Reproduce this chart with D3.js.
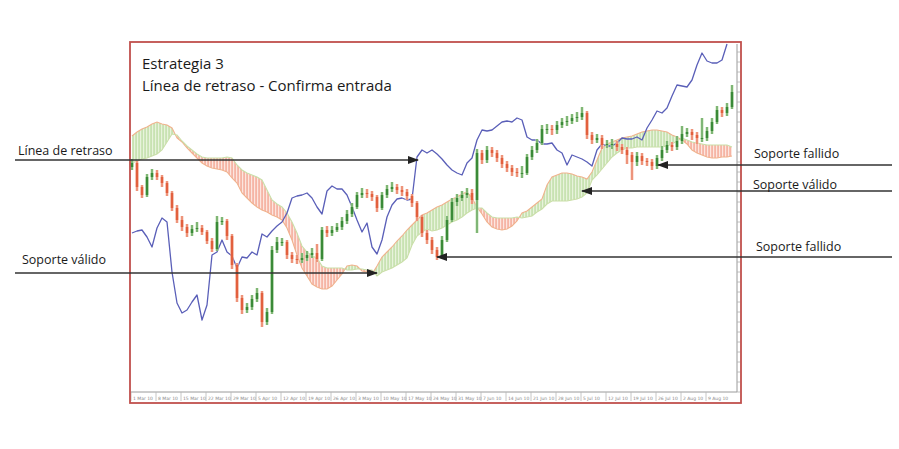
<!DOCTYPE html>
<html><head><meta charset="utf-8">
<script src="https://cdn.jsdelivr.net/npm/d3@7"></script>
<style>body{margin:0;background:#fff}svg{display:block}</style>
</head><body>
<svg id="c" width="899" height="449"></svg>
<script>
// ---- data (price units, daily bars) ----
const open = [225,229,205,197,215,219,215,209,199,184,
172,165,159,163,164,160,151,143,170,171,
156,127,94,82,85,93,99,70,80,142,
150,150,137,133,132,134,137,139,133,162,
159,162,165,171,178,185,197,199,198,195,
184,197,203,205,202,200,196,189,175,159,
152,142,135,152,172,190,194,197,199,192,
239,232,242,239,234,228,224,220,219,219,
235,242,249,263,263,262,267,270,271,274,
275,279,257,252,254,247,248,248,245,242,
237,230,236,231,230,226,234,242,247,245,
251,258,260,257,254,254,261,270,282,279,
285];
const high = [233,231,207,218,223,222,217,211,201,187,
176,168,167,170,167,162,154,176,175,173,
158,129,97,89,97,104,101,84,146,155,
154,152,140,137,139,141,144,148,165,166,
166,169,175,182,189,200,204,203,201,197,
200,207,210,208,206,203,198,191,177,162,
155,145,156,176,194,198,201,204,203,243,
242,246,245,242,237,231,227,224,226,238,
246,253,267,268,267,271,274,276,278,280,
285,281,260,258,257,252,253,251,248,245,
240,240,239,234,233,237,246,251,250,256,
266,264,263,260,274,265,274,286,285,289,
307];
const low = [222,201,194,195,212,212,205,196,181,169,
161,155,156,160,157,148,140,141,167,152,
123,90,78,79,82,90,65,67,78,139,
146,133,129,128,129,131,134,130,131,155,
156,160,162,168,175,183,194,194,191,180,
182,194,200,198,196,192,185,171,155,148,
138,132,133,150,170,186,191,194,188,159,
228,229,235,230,224,220,216,215,214,217,
232,239,247,258,257,258,264,266,268,270,
272,253,248,249,243,244,243,241,238,228,
212,226,227,226,222,223,231,239,241,242,
248,255,252,248,250,251,258,268,275,276,
283];
const close = [229,205,197,215,219,215,209,199,184,172,
165,159,163,164,160,151,143,170,171,156,
127,94,82,85,93,99,70,80,142,150,
150,137,133,132,134,137,139,133,162,159,
162,165,171,178,185,197,199,198,195,184,
197,203,205,202,200,196,189,175,159,152,
142,135,152,172,190,194,197,199,192,239,
232,242,239,234,228,224,220,219,219,235,
242,249,263,263,262,267,270,271,274,275,
279,257,252,254,247,248,248,245,242,237,
230,236,231,230,226,234,242,247,245,251,
258,260,257,254,254,261,270,282,279,285,
300];
const spanA = [256,260,263,265,268,270,268,267,264,254,
250,244,239,234,229,226,224,223,222,220,
214,209,199,194,189,185,182,180,177,175,
172,164,152,137,124,116,108,105,103,103,
106,112,118,126,127,126,121,120,118,126,
135,140,145,151,156,162,167,172,177,179,
182,185,187,190,193,195,198,200,194,185,
178,170,165,163,162,163,166,171,179,181,
185,189,193,207,215,217,219,219,218,216,
215,213,220,232,244,248,250,252,254,255,
256,258,260,261,262,262,261,260,257,255,
252,248,242,239,237,235,234,234,235,235,
236];
const spanB = [229,231,233,234,236,238,242,250,258,257,
251,246,242,238,235,234,234,234,234,235,
234,227,222,219,217,215,212,202,192,188,
185,179,170,159,146,140,136,134,126,124,
124,124,124,122,122,123,123,122,122,116,
120,122,124,127,130,134,147,156,160,163,
161,162,164,167,170,172,175,179,182,184,
184,179,175,174,174,174,174,175,174,175,
176,180,183,188,191,191,191,191,192,193,
195,199,212,217,223,229,235,239,242,244,
244,245,245,245,245,245,245,246,248,251,
254,252,250,249,248,247,247,247,247,247,
245];
const lagging = [159,161,162,155,145,164,174,170,120,89,
79,82,90,97,72,87,137,140,152,140,
136,124,135,134,140,137,158,155,161,166,
170,179,194,196,197,199,194,185,178,201,
206,203,203,197,185,172,160,169,145,138,
152,175,187,193,194,192,193,235,242,239,
242,238,233,227,222,219,217,229,234,252,
262,261,262,266,270,271,270,274,272,255,
252,252,248,248,249,242,239,227,237,235,
233,230,226,242,248,246,246,249,254,253,
253,255,252,264,272,281,279,284,296,307,
306,305,312,327,339,331,329,329,332,348];
const dateLabels = ["1 Mar 10","8 Mar 10","15 Mar 10","22 Mar 10","29 Mar 10","5 Apr 10",
"12 Apr 10","19 Apr 10","26 Apr 10","3 May 10","10 May 10","17 May 10",
"24 May 10","31 May 10","7 Jun 10","14 Jun 10","21 Jun 10","28 Jun 10",
"5 Jul 10","12 Jul 10","19 Jul 10","26 Jul 10","2 Aug 10","9 Aug 10"];
const titleLines = ["Estrategia 3","Línea de retraso - Confirma entrada"];
const annLabels = ["Línea de retraso","Soporte válido","Soporte fallido","Soporte válido","Soporte fallido"];
const annSide   = ["left","left","right","right","right"];
const annBar    = [57.2,49,105.2,90,61];
const annValue  = [232,119,227,201,135];

// ---- layout ----
const svg = d3.select("#c");
const frame = {x0:130, y0:42, x1:741, y1:403};
const plot = {x0:131, x1:737, y0:44, y1:392};
const x = d3.scaleLinear().domain([0,120]).range([132,732]);
const y = d3.scaleLinear().domain([0,350]).range([392,42]);
const idx = d3.range(close.length);

const defs = svg.append("defs");
function hatch(id,bg,fg){
  const p = defs.append("pattern").attr("id",id).attr("patternUnits","userSpaceOnUse")
    .attr("width",3).attr("height",6);
  p.append("rect").attr("width",3).attr("height",6).attr("fill",bg);
  p.append("rect").attr("x",0.5).attr("width",1.1).attr("height",6).attr("fill",fg);
}
hatch("hg","#e8f3dc","#b3d896");
hatch("hr","#fce6df","#f2957f");
defs.append("clipPath").attr("id","above").append("path")
  .attr("d", d3.area().x(i=>x(i)).y0(y(350)).y1(i=>y(spanB[i]))(idx));
defs.append("clipPath").attr("id","below").append("path")
  .attr("d", d3.area().x(i=>x(i)).y0(i=>y(spanB[i])).y1(y(0))(idx));
defs.append("marker").attr("id","ah").attr("markerUnits","userSpaceOnUse")
  .attr("markerWidth",11).attr("markerHeight",8).attr("refX",10).attr("refY",4)
  .attr("orient","auto").append("path").attr("d","M0,0L11,4L0,8Z").attr("fill","#222");

svg.append("rect").attr("width",899).attr("height",449).attr("fill","#fff");

// plot inner border / axes
svg.append("line").attr("x1",plot.x1).attr("x2",plot.x1).attr("y1",plot.y0).attr("y2",plot.y1)
  .attr("stroke","#9a9a9a").attr("stroke-width",1);
svg.append("line").attr("x1",plot.x0).attr("x2",plot.x1).attr("y1",plot.y1).attr("y2",plot.y1)
  .attr("stroke","#9a9a9a").attr("stroke-width",1);
svg.append("g").selectAll("line").data(d3.range(0,350,10)).join("line")
  .attr("x1",plot.x1).attr("x2",plot.x1+3).attr("y1",d=>y(d)).attr("y2",d=>y(d))
  .attr("stroke","#b0b0b0").attr("stroke-width",0.8);
const dg = svg.append("g");
dateLabels.forEach((t,k)=>{
  const xi = x(k*5);
  dg.append("line").attr("x1",xi-1).attr("x2",xi-1).attr("y1",plot.y1).attr("y2",plot.y1+9)
    .attr("stroke","#b8b8b8").attr("stroke-width",0.8);
  dg.append("text").attr("x",xi+1).attr("y",plot.y1+8).text(t)
    .attr("font-family","DejaVu Sans").attr("font-size",4.5).attr("fill","#8a8a8a");
});

// cloud
const band = d3.area().x(i=>x(i)).y0(i=>y(spanA[i])).y1(i=>y(spanB[i]));
svg.append("path").attr("d",band(idx)).attr("fill","url(#hg)").attr("clip-path","url(#above)");
svg.append("path").attr("d",band(idx)).attr("fill","url(#hr)").attr("clip-path","url(#below)");
const ln = arr => d3.line().x(i=>x(i)).y(i=>y(arr[i]))(idx);
svg.append("path").attr("d",ln(spanA)).attr("fill","none").attr("stroke","#f0b28d").attr("stroke-width",1.1);
svg.append("path").attr("d",ln(spanB)).attr("fill","none").attr("stroke","#c9dfa8").attr("stroke-width",1.1);

// lagging line
svg.append("path").attr("d", d3.line().x((d,i)=>x(i)).y(d=>y(d))(lagging))
  .attr("fill","none").attr("stroke","#5a5fb8").attr("stroke-width",1.3).attr("stroke-linejoin","round");

// candles
const cg = svg.append("g");
idx.forEach(i=>{
  const up = close[i] >= open[i];
  const col = up ? "#3a8a38" : "#e2603e";
  const halo = up ? "#c4e2b4" : "#f8c8b8";
  const cx = x(i);
  cg.append("line").attr("x1",cx).attr("x2",cx).attr("y1",y(high[i])).attr("y2",y(low[i]))
    .attr("stroke",halo).attr("stroke-width",3);
  cg.append("line").attr("x1",cx).attr("x2",cx).attr("y1",y(high[i])).attr("y2",y(low[i]))
    .attr("stroke",col).attr("stroke-width",1);
  const top = y(Math.max(open[i],close[i])), bot = y(Math.min(open[i],close[i]));
  cg.append("rect").attr("x",cx-1.25).attr("width",2.5).attr("y",top).attr("height",Math.max(1,bot-top))
    .attr("fill",col);
});

// frame
svg.append("rect").attr("x",frame.x0).attr("y",frame.y0).attr("width",frame.x1-frame.x0)
  .attr("height",frame.y1-frame.y0).attr("fill","none").attr("stroke","#c0504d").attr("stroke-width",1.8);

// title
svg.append("text").attr("x",142).attr("y",69).text(titleLines[0])
  .attr("font-family","Open Sans").attr("font-size",15).attr("fill","#1a1a1a");
svg.append("text").attr("x",142).attr("y",91).text(titleLines[1])
  .attr("font-family","Open Sans").attr("font-size",15).attr("fill","#1a1a1a");

// annotations
const labelDy = [-5,-9,-7,-2,-6];
const labelX = [18,22,754,753,756];
annLabels.forEach((t,k)=>{
  const tx = x(annBar[k]), ty = y(annValue[k]);
  const sx = annSide[k]==="left" ? 15 : 892;
  svg.append("line").attr("x1",sx).attr("y1",ty).attr("x2",tx).attr("y2",ty)
    .attr("stroke","#333").attr("stroke-width",1.5).attr("marker-end","url(#ah)");
  svg.append("text").attr("x",labelX[k]).attr("y",ty+labelDy[k]).text(t)
    .attr("font-family","Open Sans").attr("font-size",12.5).attr("fill","#1a1a1a");
});
</script>
</body></html>
